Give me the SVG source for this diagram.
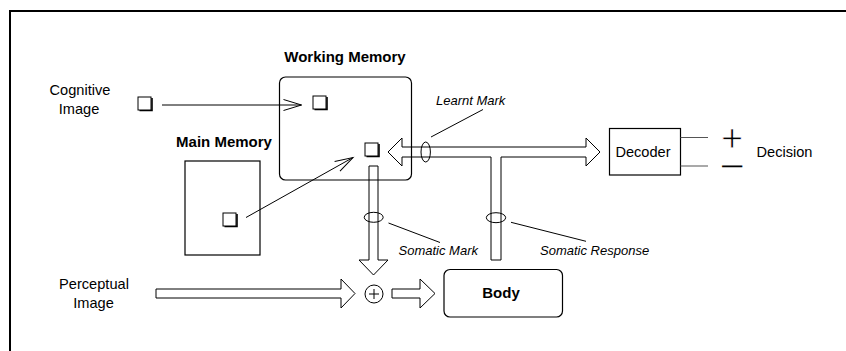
<svg xmlns="http://www.w3.org/2000/svg" width="846" height="351" viewBox="0 0 846 351">
  <style>
    .line { fill: none; stroke: #000; stroke-width: 1; }
    .block { fill: none; stroke: #000; stroke-width: 1; stroke-linejoin: miter; }
    .box { fill: #fff; stroke: #000; stroke-width: 1.2; }
    .tag { fill: none; stroke: #000; stroke-width: 1; }
    .lbl { font-family: "Liberation Sans", Arial, Helvetica, sans-serif; font-size: 14.6px; fill: #000; }
    .title { font-family: "Liberation Sans", Arial, Helvetica, sans-serif; font-size: 15px; font-weight: bold; fill: #000; }
    .note { font-family: "Liberation Sans", Arial, Helvetica, sans-serif; font-size: 13px; font-style: italic; fill: #000; }
    .plus { font-family: "Liberation Sans", Arial, Helvetica, sans-serif; font-size: 38px; fill: #000; stroke: #fff; stroke-width: 0.9; }
    .minus { font-family: "Liberation Sans", Arial, Helvetica, sans-serif; font-size: 11px; fill: #000; stroke: #000; stroke-width: 1; }
    .out { stroke: #555; stroke-width: 1.2; }
  </style>
  <defs>
    <!-- small image token with a drop shadow on the lower right -->
    <g id="token">
      <path d="M1.5,13.5 H14 V1" fill="none" stroke="#000" stroke-width="1.6"/>
      <rect x="0" y="0" width="13" height="13" fill="#fff" stroke="#000" stroke-width="1"/>
    </g>
    <marker id="vhead" markerUnits="userSpaceOnUse" markerWidth="24" markerHeight="16" viewBox="-20 -8 22 16" refX="0" refY="0" orient="auto">
      <path d="M-18,-5.5 L0,0 L-18,5.5" fill="none" stroke="#000" stroke-width="1"/>
    </marker>
  </defs>

  <!-- outer frame -->
  <path d="M10,351 V11 H846" fill="none" stroke="#000" stroke-width="2"/>

  <g id="working-memory">
    <rect x="279.5" y="77" width="132" height="103" rx="6" class="box" style="fill:none"/>
    <text class="title" x="345" y="62" text-anchor="middle">Working Memory</text>
    <use href="#token" x="313" y="96"/>
    <use href="#token" x="365" y="143"/>
  </g>

  <g id="main-memory">
    <rect x="185" y="161" width="75" height="94" class="box"/>
    <text class="title" x="224" y="147" text-anchor="middle">Main Memory</text>
    <use href="#token" x="223" y="213"/>
  </g>

  <g id="cognitive-image">
    <text class="lbl" x="80" y="95" text-anchor="middle">Cognitive</text>
    <text class="lbl" x="79" y="114" text-anchor="middle">Image</text>
    <use href="#token" x="138" y="97"/>
  </g>

  <g id="perceptual-image">
    <text class="lbl" x="94" y="289" text-anchor="middle">Perceptual</text>
    <text class="lbl" x="93.5" y="307.5" text-anchor="middle">Image</text>
  </g>

  <g id="sum">
    <circle cx="374" cy="294" r="9" class="line"/>
    <path d="M369,294 H379 M374,289 V299" class="line"/>
  </g>

  <g id="body">
    <rect x="444" y="269.5" width="118.5" height="47.5" rx="6" class="box"/>
    <text class="title" x="501" y="298" text-anchor="middle">Body</text>
  </g>

  <g id="decoder">
    <rect x="609.5" y="128.5" width="71" height="46.5" class="box"/>
    <text class="lbl" x="643" y="157" text-anchor="middle">Decoder</text>
    <path d="M680.5,137.5 H708 M680.5,166 H708" class="out"/>
  </g>

  <g id="decision">
    <text class="plus" x="732" y="151" text-anchor="middle">+</text>
    <!-- minus set small and stretched wide so the two signs keep apart -->
    <text class="minus" transform="translate(732,0) scale(3.2,1)" x="0" y="170" text-anchor="middle">−</text>
    <text class="lbl" x="784.5" y="157" text-anchor="middle">Decision</text>
  </g>

  <g id="connectors">
    <!-- thin arrows into working memory -->
    <line x1="162" y1="105" x2="301.5" y2="105" class="line" marker-end="url(#vhead)"/>
    <line x1="246" y1="217.5" x2="353" y2="157.5" class="line" marker-end="url(#vhead)"/>

    <!-- two-way channel to the decoder, with the branch down to the body -->
    <path class="block" d="M388,152 L402,138 V147 H586 V138 L600,152 L586,166 V157 H501 V260 H491 V157 H402 V166 Z"/>

    <!-- somatic mark channel down to the sum -->
    <path class="block" d="M369,166 H378 V260 H388 L373.5,275 L359,260 H369 Z"/>

    <!-- perceptual image into the sum -->
    <path class="block" d="M156,289 H341 V279 L355,293.5 L341,308 V298 H156 Z"/>

    <!-- sum into the body -->
    <path class="block" d="M392,289 H420 V279 L435,293.5 L420,308 V298 H392 Z"/>

    <!-- channel tags with their leaders -->
    <ellipse cx="425.7" cy="152" rx="4.7" ry="10" class="tag"/>
    <line x1="431" y1="137" x2="483" y2="109.5" class="line"/>
    <text class="note" x="436" y="105">Learnt Mark</text>

    <ellipse cx="373.7" cy="217.3" rx="9.5" ry="5" class="tag"/>
    <line x1="388.5" y1="223" x2="440" y2="242.5" class="line"/>
    <text class="note" x="398.5" y="255">Somatic Mark</text>

    <ellipse cx="496" cy="217.7" rx="9.7" ry="5" class="tag"/>
    <line x1="511" y1="222.3" x2="586" y2="241.3" class="line"/>
    <text class="note" x="540" y="255">Somatic Response</text>
  </g>
</svg>
